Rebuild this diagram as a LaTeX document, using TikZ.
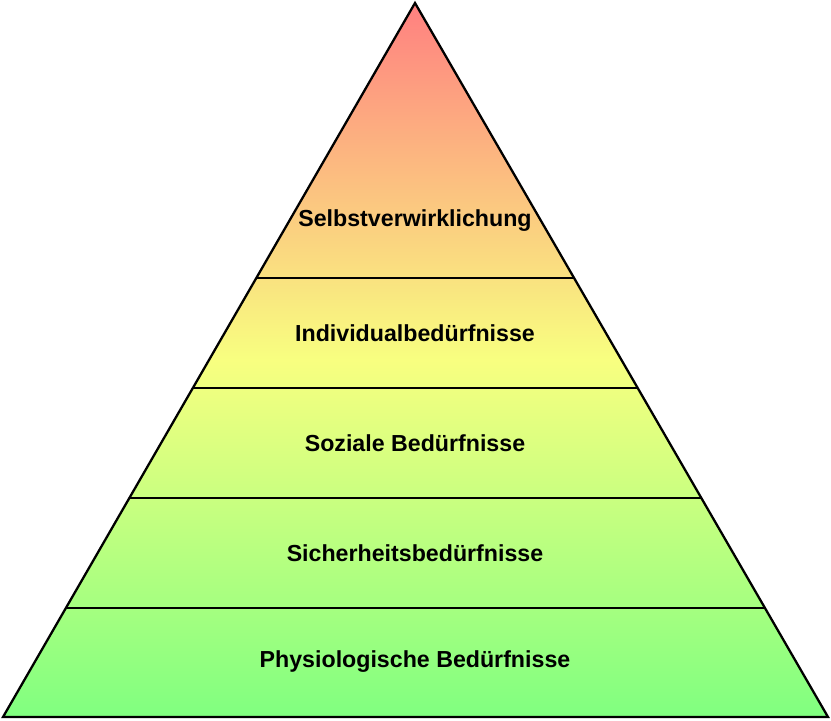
\documentclass[tikz,border=0pt]{standalone}
\usepackage{fontspec}
\setmainfont{Liberation Sans}
\definecolor{topred}{RGB}{255,128,128}
\definecolor{midyellow}{RGB}{248,255,128}
\definecolor{basegreen}{RGB}{128,255,128}
\begin{document}
\begin{tikzpicture}[x=0.02cm, y=-0.02cm, every node/.style={font=\bfseries\fontsize{13.2}{15}\selectfont}]
    \useasboundingbox (0,0) rectangle (831,720);
    % Corners of the pyramid
    \coordinate (apex) at (415,3);
    \coordinate (baseL) at (3,717);
    \coordinate (baseR) at (828,717);
    % Coloured body
    \begin{scope}
        \clip (apex) -- (baseR) -- (baseL) -- cycle;
        \shade[top color=topred, bottom color=basegreen, middle color=midyellow] (0,3) rectangle (831,717);
    \end{scope}
    % Level separators
    \foreach \yy/\name in {278/a, 388/b, 498/c, 608/d} {
        \coordinate (\name L) at ({415-0.57703*(\yy-3)},\yy);
        \coordinate (\name R) at ({415+0.57843*(\yy-3)},\yy);
        \draw[line width=1.3pt] (\name L) -- (\name R);
    }
    \draw[line width=1.3pt, line join=miter] (apex) -- (baseR) -- (baseL) -- cycle;
    % Labels
    \node (selbst) at (415,221) {Selbstverwirklichung};
    \node (indiv) at (415,333) {Individualbedürfnisse};
    \node (sozial) at (415,443) {Soziale Bedürfnisse};
    \node (sicher) at (415,553) {Sicherheitsbedürfnisse};
    \node (physio) at (415,662) {Physiologische Bedürfnisse};
\end{tikzpicture}
\end{document}
